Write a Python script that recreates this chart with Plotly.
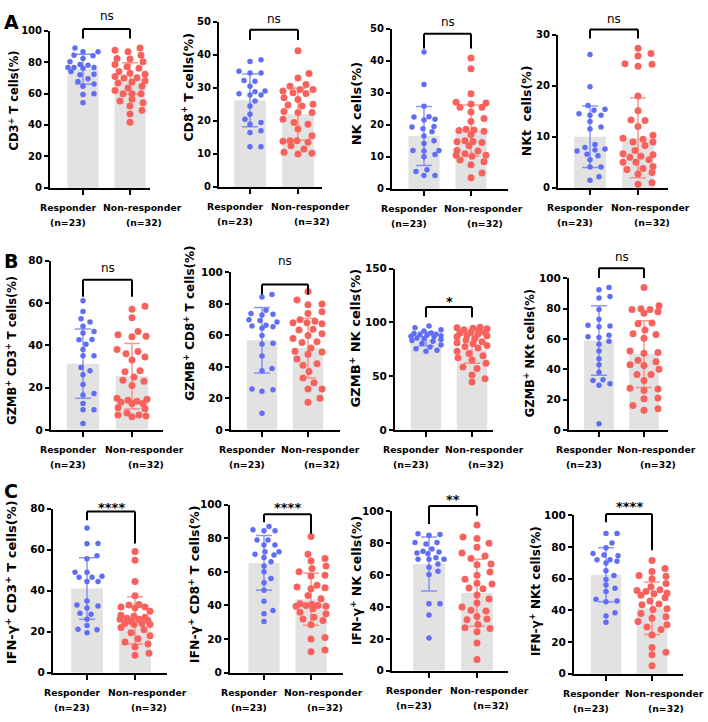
import plotly.graph_objects as go

W, H = 708, 722
FONT = "DejaVu Sans"
BLUE = "rgb(96,110,246)"
RED = "rgb(249,98,92)"
BLUE_ERR = "rgba(110,125,246,0.8)"
RED_ERR = "rgba(249,125,115,0.8)"
BAR = "rgb(226,226,226)"

# ---------------- data ----------------
groups = ["Responder", "Non-responder"]
group_n = ["(n=23)", "(n=32)"]
panel_letters = ["A", "B", "C"]

y_titles = [
    "CD3<sup>+</sup> T cells(%)",
    "CD8<sup>+</sup> T cells(%)",
    "NK cells(%)",
    "NKt  cells(%)",
    "GZMB<sup>+</sup> CD3<sup>+</sup> T cells(%)",
    "GZMB<sup>+</sup> CD8<sup>+</sup> T cells(%)",
    "GZMB<sup>+</sup> NK cells(%)",
    "GZMB<sup>+</sup> NKt cells(%)",
    "IFN-γ<sup>+</sup> CD3<sup>+</sup> T cells(%)",
    "IFN-γ<sup>+</sup> CD8<sup>+</sup> T cells(%)",
    "IFN-γ<sup>+</sup> NK cells(%)",
    "IFN-γ<sup>+</sup> NKt cells(%)",
]
y_max = [100, 50, 50, 30, 80, 100, 150, 100, 80, 100, 100, 100]
y_dtick = [20, 10, 10, 10, 20, 20, 50, 20, 20, 20, 20, 20]
sig_labels = ["ns", "ns", "ns", "ns", "ns", "ns", "*", "ns", "****", "****", "**", "****"]

resp_mean = [75.5, 26.2, 16.5, 10.0, 31.3, 56.9, 84.5, 59.0, 41.0, 65.3, 67.0, 62.5]
resp_sd = [9.5, 8.0, 9.2, 6.0, 16.4, 20.8, 6.5, 23.0, 15.0, 16.3, 17.0, 17.0]
nonresp_mean = [69.5, 22.0, 18.2, 9.8, 25.3, 52.0, 75.0, 50.0, 25.5, 43.7, 49.0, 41.4]
nonresp_sd = [10.0, 7.9, 8.0, 7.8, 15.5, 19.0, 13.0, 22.0, 11.5, 15.5, 21.0, 16.6]

bracket_top = [101, 47.6, 48.4, 31.0, 71.0, 92.3, 114.3, 106.7, 78.6, 94.3, 103.5, 100.8]
bracket_left_end = [95, 44.5, 43.8, 29.2, 63, 86, 104.6, 100.2, 74.3, 89.5, 92.2, 95.6]
bracket_right_end = [95, 44.5, 43.8, 29.2, 63, 86, 104.6, 100.2, 62.9, 82.6, 97.3, 78.0]
sig_level = [109, 50.8, 52, 33.1, 76.4, 107, 119, 114, 80.5, 98.5, 107.5, 105.5]

cd3_resp = [89, 86.5, 86.5, 84.4, 84, 82.3, 80.2, 78.5, 78, 76.5, 76.5, 76, 76.5, 74, 72.3, 71.9,
            69.4, 67.7, 66, 64.6, 59.8, 59.4, 54.2]
cd3_nonresp = [89, 87.5, 86.5, 84.4, 82.3, 81.9, 80.2, 78.5, 77, 76, 74, 72.9, 72.3, 70.8, 69.8, 68.1,
               67.3, 66.7, 64.6, 63.5, 61.9, 59.8, 59.8, 59.8, 56.3, 55.2, 54.2, 52, 49.4, 47, 41.7, 70]
cd8_resp = [38.5, 38, 35, 34.5, 34.5, 32.2, 32, 30.5, 29, 28.8, 28.2, 27.8, 27.8, 26, 24.5, 22,
            20.5, 19.5, 19, 17, 16.5, 12.2, 12.2]
cd8_nonresp = [41.2, 34.3, 33, 31, 30.5, 29.5, 29.5, 29, 28.5, 28.3, 27, 26.5, 25, 24.8, 24.5, 22.8,
               22.5, 22.5, 20.5, 19.5, 19, 17.5, 15.5, 14, 14, 13.8, 13.5, 12.5, 11.5, 10.5, 10.2, 10]
nk_resp = [42.7, 32.6, 25.8, 22.5, 22.4, 21.7, 21.5, 19.5, 19.3, 18.8, 17.8, 16.5, 15, 14.2, 12, 12,
           11.8, 10.7, 10, 6, 5.4, 4.2, 4.2]
nk_nonresp = [40.8, 37.5, 29.7, 27, 26.8, 26.5, 25.5, 25.5, 24, 22, 21, 18.6, 18.4, 18.2, 18, 17,
              15, 14.8, 14.7, 14.5, 13.5, 12, 11.8, 11, 10.5, 10.5, 10.2, 9, 8.5, 7.5, 5, 3.5]
nkt_resp = [26.1, 19.8, 16.1, 15.4, 15.2, 14.5, 14.2, 14.2, 13, 11.9, 11.5, 8.5, 7.9, 7.6, 7.4, 7.2,
            6.6, 6.3, 5.5, 4.1, 4.1, 2.2, 1.5]
nkt_nonresp = [27.3, 26.3, 25.8, 24.3, 24.2, 23.8, 18.0, 15.1, 13.3, 13.2, 12.0, 10.3, 9.7, 9.5, 9.0,
               9.0, 8.3, 7.3, 6.7, 6.5, 6.2, 6.0, 5.5, 5.0, 5.0, 4.2, 3.8, 3.6, 3.0, 2.7, 1.0, 0.7]
gzmb_cd3_resp = [61, 56, 52.5, 51, 49, 46.5, 45.8, 42.7, 42.6, 40.5, 38, 35, 35, 29.5, 28, 26,
                 21.5, 17.2, 16.5, 12.5, 9.5, 9.5, 3]
gzmb_cd3_nonresp = [58.5, 57, 53, 46.5, 45, 44.3, 44, 38, 37, 36, 34.5, 33, 28, 27.5, 25, 23.5, 23,
                    21, 15, 14.5, 14, 13.5, 13, 12.5, 12.5, 10.5, 10, 8, 7, 7, 6.5, 6.2]
gzmb_cd8_resp = [86, 84.5, 76, 74, 73.5, 73, 70, 69.5, 68.5, 66.5, 66, 65.5, 64.5, 60, 55, 54.5,
                 47, 39, 37.5, 26, 25.5, 24.5, 10.5]
gzmb_cd8_nonresp = [88, 82.5, 80, 79.5, 75, 74, 70, 69, 68, 68, 67.5, 64, 63.5, 61, 60, 58, 56, 55.5,
                    52, 50, 49.5, 48, 45, 42, 41, 37, 33, 30, 26, 26, 20, 17.5]
gzmb_nk_resp = [96.5, 95, 93, 92, 90, 89.5, 89, 88.5, 88, 87.5, 87, 86.5, 85.5, 85, 84, 83, 82.5,
                80.5, 79, 77, 75.5, 74, 73]
gzmb_nk_nonresp = [95.5, 95, 94.5, 94, 93, 92, 91, 90.5, 90, 89, 88, 87.5, 86.5, 85, 83.5, 82, 81,
                   80, 78.5, 77.5, 76, 73, 71, 69, 67, 65, 62, 58.5, 57, 51, 47.5, 44.5]
gzmb_nkt_resp = [94, 92.5, 88, 87, 79.5, 73, 69, 68.5, 68, 62.5, 61.5, 61, 58.5, 56.5, 52, 47, 43,
                 38, 33, 32.5, 30.5, 29.5, 4]
gzmb_nkt_nonresp = [94, 82, 80, 79.5, 79.5, 78, 77, 70.5, 70, 66, 63.5, 63, 60.5, 52, 51, 50.5, 46,
                    45, 43, 42.5, 40, 36.5, 36.5, 32.5, 27.5, 27, 26, 21, 20.5, 16, 14, 13]
ifng_cd3_resp = [70.5, 63, 62.8, 57, 55.5, 49, 49, 47, 46.5, 46.5, 44.5, 44.5, 35, 33, 32.5, 31.5,
                 29, 28.5, 26, 23, 21.2, 21, 19.5]
ifng_cd3_nonresp = [59, 54.8, 44.5, 37.5, 33.2, 33, 32, 32, 31.5, 30, 28, 27.5, 27, 26.5, 26, 26,
                    25.5, 25, 24, 24, 23.5, 23.5, 22, 21, 19.5, 18, 16.5, 15, 14, 12.5, 9.5, 8.5]
ifng_cd8_resp = [87, 85, 84.5, 84.5, 79, 79, 76, 76, 72, 72, 70.5, 70, 68.5, 66, 63.5, 60, 56, 53.5,
                 49, 42.5, 37, 35, 30.5]
ifng_cd8_nonresp = [81, 70.5, 68, 66.5, 63.5, 62, 60, 58, 57.5, 52, 51, 50.5, 50, 46, 44, 41, 40.5,
                    40, 40, 39.5, 39.5, 38, 36, 35, 33, 32, 31, 28.5, 21, 20, 13.5, 12.5]
ifng_nk_resp = [86, 85.5, 85, 80.5, 80.5, 79.5, 76.5, 75, 74.5, 74, 73.5, 71, 70, 70, 70, 67, 65,
                62.5, 60.5, 42, 42, 35, 20.5]
ifng_nk_nonresp = [91.5, 84, 83, 80, 77.5, 74, 72, 70.5, 67, 66.5, 62, 60, 57.5, 55, 54.5, 52, 51.5,
                   47.5, 45, 42.5, 40, 38, 37.5, 34, 32.5, 32, 29, 27, 26.5, 24.5, 17.5, 7]
ifng_nkt_resp = [88.5, 88.5, 82.5, 79.5, 76, 75, 74.5, 72, 72, 71, 70, 65, 62, 59.5, 56, 54, 52, 47,
                 46, 45.5, 38.5, 36.5, 32.5]
ifng_nkt_nonresp = [71.5, 66.5, 64.5, 62, 61.5, 60, 57, 55, 53, 52.5, 52, 51, 50.5, 49.5, 48, 46, 44,
                    43.5, 41, 40.5, 38, 36, 35, 33, 31, 29.5, 28, 24.5, 16.5, 13.5, 12, 5]

resp_values = [cd3_resp, cd8_resp, nk_resp, nkt_resp, gzmb_cd3_resp, gzmb_cd8_resp, gzmb_nk_resp,
               gzmb_nkt_resp, ifng_cd3_resp, ifng_cd8_resp, ifng_nk_resp, ifng_nkt_resp]
nonresp_values = [cd3_nonresp, cd8_nonresp, nk_nonresp, nkt_nonresp, gzmb_cd3_nonresp,
                  gzmb_cd8_nonresp, gzmb_nk_nonresp, gzmb_nkt_nonresp, ifng_cd3_nonresp,
                  ifng_cd8_nonresp, ifng_nk_nonresp, ifng_nkt_nonresp]

# ---------------- layout geometry (pixels) ----------------
# axis_x, tick1_x, tick2_x, end_x, top_px, zero_px
geom = [
    (50, 83, 130, 150, 25, 185),
    (219, 250, 298, 322, 16, 184),
    (392, 424, 471, 508, 23, 186),
    (558, 590, 638, 668, 29, 185),
    (51, 83, 132, 163, 259, 431),
    (231, 262, 308, 340, 271, 431),
    (395, 426, 472, 493, 267, 431),
    (569, 599, 644, 668, 277, 431),
    (53, 87, 135, 167, 511, 678),
    (230, 264, 311, 343, 507, 678),
    (392, 429, 477, 508, 514, 676),
    (574, 606, 652, 683, 518, 679),
]
# y-title centre (px) and font size
title_cx = [14, 187, 356, 526, 11.5, 189, 355, 529, 11, 194, 356, 535]
title_cy = [96, 83, 99, 107, 350, 323, 337, 353, 586, 588, 585, 595]
title_sizes = [11.5, 12.5, 13, 12.5, 11.5, 12, 13, 11.5, 13, 12.5, 12.5, 12]
tick_sizes = [10, 10, 10, 10, 10.5, 10.5, 10.5, 10.5, 10.5, 10.5, 10.5, 10.5]
letter_pos = [(2, 3), (2, 246), (2, 480)]
BLUE_SIZE, RED_SIZE = 5.5, 7


def swarm(vals, ypx, xpx, d, maxoff=15.0):
    order = sorted(range(len(vals)), key=lambda i: vals[i])
    cands = [0.0]
    k = 1
    while k <= maxoff:
        cands += [float(k), float(-k)]
        k += 1
    sx, sy = 2.0 * d, 1.0 * d
    placed = []
    offs = [0.0] * len(vals)
    for i in order:
        y = vals[i] * ypx
        chosen, bestc, bestscore = None, 0.0, -1.0
        for c in cands:
            m = min([((c - px) / sx) ** 2 + ((y - py) / sy) ** 2 for px, py in placed] or [9.0])
            if m >= 1.0:
                chosen = c
                break
            if m > bestscore:
                bestscore, bestc = m, c
        if chosen is None:
            chosen = bestc
        placed.append((chosen, y))
        offs[i] = chosen / xpx
    return offs


fig = go.Figure()
layout = dict(width=W, height=H, margin=dict(l=0, r=0, t=0, b=0), showlegend=False,
              plot_bgcolor="white", paper_bgcolor="white",
              font=dict(family=FONT, color="black"))
annotations = []
shapes = []

for p in range(12):
    k = p + 1
    xa = "x" if k == 1 else f"x{k}"
    ya = "y" if k == 1 else f"y{k}"
    axis_x, t1, t2, end_x, top_px, zero_px = geom[p]
    unit = t2 - t1
    xr = [-(t1 - axis_x) / unit, 1 + (end_x - t2) / unit]
    ypx = (zero_px - top_px) / y_max[p]

    layout["xaxis" if k == 1 else f"xaxis{k}"] = dict(
        domain=[axis_x / W, end_x / W], range=xr, anchor=ya,
        showline=True, linecolor="black", linewidth=2, ticks="outside", ticklen=5,
        tickwidth=2, tickcolor="black", tickvals=[0, 1], showticklabels=False,
        showgrid=False, zeroline=False, fixedrange=True)
    layout["yaxis" if k == 1 else f"yaxis{k}"] = dict(
        domain=[1 - zero_px / H, 1 - top_px / H], range=[0, y_max[p]], anchor=xa,
        dtick=y_dtick[p], showline=True, linecolor="black", linewidth=2, ticks="outside",
        ticklen=4, tickwidth=2, tickcolor="black", showgrid=False, zeroline=False,
        tickfont=dict(family=FONT, size=tick_sizes[p], weight="bold"),
        fixedrange=True)
    annotations.append(dict(xref="paper", yref="paper", x=title_cx[p] / W,
                            y=1 - title_cy[p] / H, xanchor="center", yanchor="middle",
                            textangle=-90, text=y_titles[p], showarrow=False,
                            font=dict(family=FONT, size=title_sizes[p], weight="bold")))

    fig.add_trace(go.Bar(x=[0, 1], y=[resp_mean[p], nonresp_mean[p]], width=0.66,
                         marker=dict(color=BAR, line=dict(width=0)),
                         xaxis=xa, yaxis=ya, hoverinfo="skip"))
    for xi, m, s, c in [(0, resp_mean[p], resp_sd[p], BLUE_ERR),
                        (1, nonresp_mean[p], nonresp_sd[p], RED_ERR)]:
        fig.add_trace(go.Scatter(x=[xi], y=[m], mode="markers",
                                 marker=dict(size=1, opacity=0),
                                 error_y=dict(type="data", array=[s], color=c,
                                              thickness=1.5, width=8),
                                 xaxis=xa, yaxis=ya, hoverinfo="skip"))
    for xi, vals, col, sz in [(0, resp_values[p], BLUE, BLUE_SIZE),
                              (1, nonresp_values[p], RED, RED_SIZE)]:
        offs = swarm(vals, ypx, unit, sz)
        fig.add_trace(go.Scatter(x=[xi + o for o in offs], y=vals, mode="markers",
                                 marker=dict(color=col, size=sz, line=dict(width=0)),
                                 cliponaxis=False, xaxis=xa, yaxis=ya))

    # significance bracket
    yd = ya + " domain"
    top = bracket_top[p] / y_max[p]
    for x0, y0, x1, y1 in [(0, bracket_left_end[p] / y_max[p], 0, top),
                           (0, top, 1, top),
                           (1, top, 1, bracket_right_end[p] / y_max[p])]:
        shapes.append(dict(type="line", xref=xa, yref=yd, x0=x0, y0=y0, x1=x1, y1=y1,
                           line=dict(color="black", width=2)))
    bold_sig = sig_labels[p] != "ns"
    annotations.append(dict(xref=xa, yref=yd, x=0.5, y=sig_level[p] / y_max[p],
                            text=sig_labels[p], showarrow=False, yanchor="middle",
                            font=dict(family=FONT, size=13 if bold_sig else 12,
                                      weight="bold" if bold_sig else "normal")))
    # category labels
    for xi, name, n, shift in [(0, groups[0], group_n[0], -15), (1, groups[1], group_n[1], 12)]:
        annotations.append(dict(xref=xa, yref=ya + " domain", x=xi, y=0, yanchor="middle",
                                yshift=-20, xshift=shift, text=name, showarrow=False,
                                font=dict(family=FONT, size=9.3, weight="bold")))
        annotations.append(dict(xref=xa, yref=ya + " domain", x=xi, y=0, yanchor="middle",
                                yshift=-35, xshift=shift + (2 if xi == 1 else 0), text=n,
                                showarrow=False,
                                font=dict(family=FONT, size=9.3, weight="bold")))

for letter, (lx, ly) in zip(panel_letters, letter_pos):
    annotations.append(dict(xref="paper", yref="paper", x=lx / W, y=1 - ly / H,
                            xanchor="left", yanchor="top", text=letter, showarrow=False,
                            font=dict(family=FONT, size=19, weight="bold")))

layout["annotations"] = annotations
layout["shapes"] = shapes
fig.update_layout(**layout)
fig.write_html("out.html")
